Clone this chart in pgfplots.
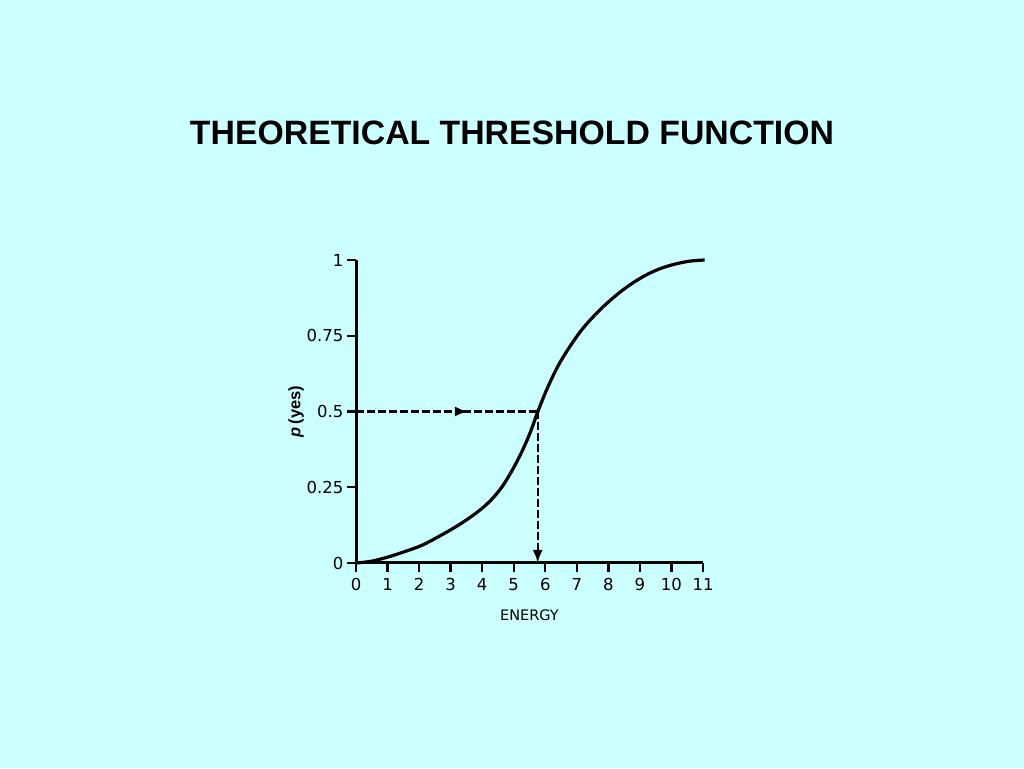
\documentclass[border=0pt]{standalone}
\usepackage{fontspec}
\setmainfont{Liberation Sans}
\newfontfamily\tickfont{DejaVu Sans}
\usepackage{pgfplots}
\pgfplotsset{compat=1.18}
\usetikzlibrary{arrows.meta}
\definecolor{bg}{RGB}{204,255,255}
\begin{document}
\begin{tikzpicture}[x=1pt,y=1pt]
\fill[bg] (0,0) rectangle (1024,768);
\node[font=\fontsize{33.8}{40}\selectfont\bfseries] at (512,635) {THEORETICAL THRESHOLD FUNCTION};
\begin{axis}[
  at={(356pt,205pt)}, anchor=south west,
  scale only axis, width=347pt, height=303pt,
  xmin=0, xmax=11, ymin=0, ymax=1,
  axis lines*=left,
  axis line style={line width=3pt},
  tick align=outside,
  major tick length=9pt,
  tick style={line width=2.4pt, black},
  xtick={0,1,...,11},
  ytick={0,0.25,0.5,0.75,1},
  yticklabels={0,0.25,0.5,0.75,1},
  /pgf/number format/assume math mode=true,
  ticklabel style={font=\tickfont\fontsize{16.5}{19}\selectfont},
  xticklabel style={yshift=-3pt},
  xlabel={ENERGY},
  xlabel style={font=\tickfont\fontsize{14.5}{17}\selectfont, yshift=-12pt},
  ylabel={\textit{p}\,(yes)},
  ylabel style={font=\fontsize{16.5}{19}\selectfont\bfseries, yshift=-4pt},
  clip=false,
]
\addplot[line width=3.2pt, smooth, tension=0.55] coordinates {
(0,0) (0.5,0.006) (1.02,0.02) (1.5,0.036) (2.08,0.058) (2.6,0.086) (3.14,0.118) (3.61,0.15) (3.98,0.179) (4.3,0.21) (4.62,0.25) (4.93,0.302) (5.2,0.355) (5.45,0.412) (5.62,0.458) (5.78,0.504) (6.1,0.585) (6.5,0.668) (7.1,0.762) (7.7,0.832) (8.3,0.888) (8.8,0.926) (9.3,0.956) (9.85,0.979) (10.5,0.995) (11.05,1.0)
};
\addplot[line width=2.4pt, dash pattern=on 8pt off 3pt, -{Latex[length=13pt,width=10pt]}] coordinates {(0,0.5) (3.55,0.5)};
\addplot[line width=2.4pt, dash pattern=on 8pt off 3pt] coordinates {(3.4,0.5) (5.76,0.5)};
\addplot[line width=2.4pt, dash pattern=on 8pt off 3pt, -{Latex[length=13pt,width=10pt]}] coordinates {(5.76,0.5) (5.76,0)};
\end{axis}
\end{tikzpicture}
\end{document}
